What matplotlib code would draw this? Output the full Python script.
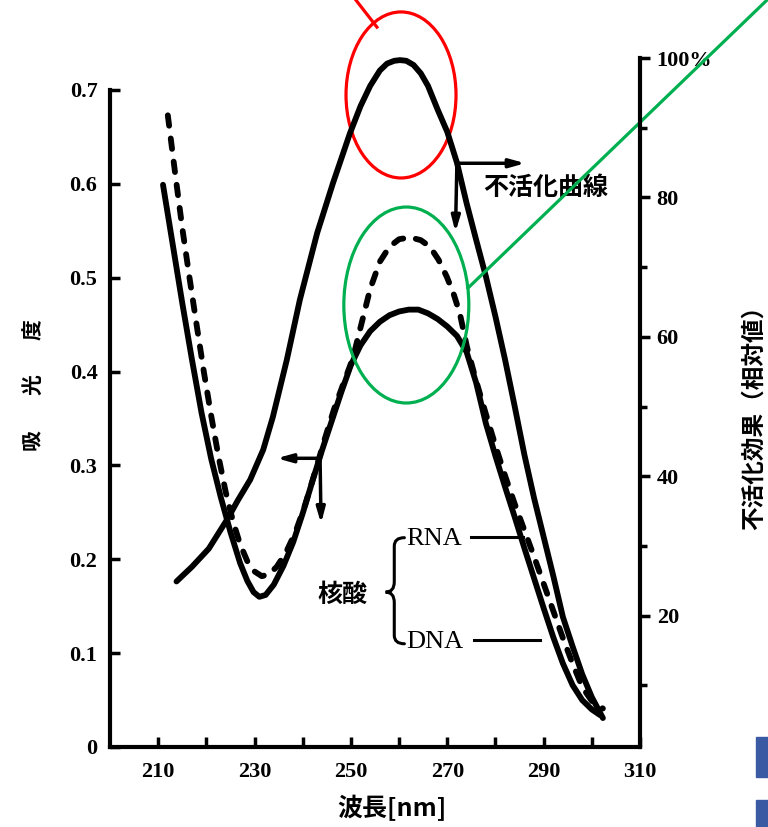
import numpy as np
import matplotlib.pyplot as plt
from matplotlib.patches import Ellipse, Rectangle, PathPatch
from matplotlib.path import Path

plt.rcParams['font.family'] = ['Noto Sans CJK JP', 'DejaVu Sans']
SERIF = 'Liberation Serif'

# DNA absorbance (left axis)
dna_nm = [211.0, 213.0, 215.0, 217.0, 219.0, 221.0, 223.0, 225.0, 227.0, 228.5, 229.8,
          231.0, 232.3, 234.0, 236.0, 238.0, 240.0, 242.0, 244.0, 246.0, 248.0, 250.0,
          252.0, 254.0, 256.0, 258.0, 260.0, 262.0, 264.0, 266.0, 268.0, 270.0, 272.0,
          274.0, 276.0, 278.0, 280.0, 282.0, 284.0, 286.0, 288.0, 290.0, 292.0, 294.0,
          296.0, 298.0, 300.0, 301.7]
dna_abs = [0.599, 0.536, 0.473, 0.413, 0.356, 0.307, 0.266, 0.229, 0.196, 0.177, 0.165,
           0.160, 0.162, 0.173, 0.193, 0.218, 0.249, 0.283, 0.316, 0.347, 0.378, 0.407,
           0.428, 0.443, 0.453, 0.460, 0.464, 0.466, 0.466, 0.462, 0.456, 0.448, 0.438,
           0.421, 0.388, 0.345, 0.310, 0.277, 0.245, 0.212, 0.180, 0.148, 0.117, 0.089,
           0.066, 0.050, 0.040, 0.034]

# RNA absorbance (left axis, dashed)
rna_nm = [212.0, 213.5, 215.0, 216.5, 218.0, 219.5, 221.0, 222.5, 224.0, 225.5, 227.0,
          228.5, 230.0, 231.5, 233.0, 234.6, 236.5, 238.5, 240.5, 242.5, 244.5, 246.5,
          248.5, 250.4, 252.0, 254.0, 256.0, 258.0, 260.0, 262.3, 264.5, 266.4, 268.2,
          269.9, 271.3, 272.6, 274.1, 276.0, 278.0, 280.0, 282.0, 284.0, 286.0, 288.0,
          290.0, 292.0, 294.0, 296.0, 298.0, 300.0, 302.3]
rna_abs = [0.673, 0.612, 0.553, 0.500, 0.449, 0.399, 0.353, 0.310, 0.272, 0.241, 0.216,
           0.198, 0.187, 0.182, 0.184, 0.192, 0.207, 0.229, 0.258, 0.292, 0.327, 0.360,
           0.388, 0.414, 0.447, 0.488, 0.517, 0.533, 0.541, 0.543, 0.540, 0.533, 0.519,
           0.501, 0.483, 0.462, 0.426, 0.390, 0.355, 0.321, 0.289, 0.259, 0.231, 0.203,
           0.174, 0.145, 0.116, 0.089, 0.064, 0.049, 0.041]

# inactivation effect (right axis, %)
inact_nm = [213.8, 217.0, 220.5, 222.5, 224.5, 226.5, 229.1, 231.8, 233.8, 236.7, 239.4,
            243.0, 246.3, 249.8, 252.0, 254.0, 256.0, 257.5, 259.0, 260.2, 261.5, 263.0,
            264.5, 266.0, 268.0, 270.0, 272.0, 274.0, 276.0, 278.0, 280.0, 282.0, 284.0,
            286.0, 288.0, 290.0, 292.0, 294.0, 296.0, 298.0, 300.0, 302.3]
inact_pct = [24.9, 27.0, 29.6, 31.8, 34.0, 36.5, 39.5, 43.8, 48.5, 56.7, 65.3,
             74.9, 82.1, 89.2, 93.1, 96.0, 98.2, 99.2, 99.6, 99.7, 99.6, 99.0,
             97.8, 96.0, 92.6, 89.4, 85.0, 79.2, 73.9, 68.7, 62.9, 56.7, 50.0,
             43.1, 36.9, 31.3, 25.7, 19.8, 15.6, 11.6, 8.3, 5.3]

x_ticks = list(range(210, 311, 10))
x_labels = ['210', '', '230', '', '250', '', '270', '', '290', '', '310']
abs_ticks = [0, 0.1, 0.2, 0.3, 0.4, 0.5, 0.6, 0.7]
abs_labels = ['0', '0.1', '0.2', '0.3', '0.4', '0.5', '0.6', '0.7']
pct_ticks = [20, 40, 60, 80, 100]
pct_labels = ['20', '40', '60', '80', '100%']
pct_minor = [10, 30, 50, 70, 90]

W, H = 768, 827
fig = plt.figure(figsize=(W / 100, H / 100), dpi=100)
ax = fig.add_axes([110 / W, 1 - 747 / H, 530 / W, 697 / H])
ax2 = ax.twinx()

LW = 4.2
ax.plot(dna_nm, dna_abs, color='black', lw=LW, solid_capstyle='round', solid_joinstyle='round')
ax.plot(rna_nm, rna_abs, color='black', lw=LW, dashes=(1.8, 2.2), dash_capstyle='round')
ax2.plot(inact_nm, inact_pct, color='black', lw=LW, solid_capstyle='round', solid_joinstyle='round')

# axes styling
ax.set_xlim(200, 310)
ax.set_ylim(0, 0.7426)
for s in ['top', 'right']:
    ax.spines[s].set_visible(False)
for s in ['top', 'left', 'bottom']:
    ax2.spines[s].set_visible(False)
ax.spines['left'].set_bounds(0, 0.7)
ax2.spines['right'].set_bounds(1.148, 100)
for sp in [ax.spines['left'], ax.spines['bottom'], ax2.spines['right']]:
    sp.set_linewidth(3)

ax.set_xticks(x_ticks)
ax.set_xticklabels(x_labels, fontfamily=SERIF, fontweight='bold', fontsize=16)
ax.tick_params(axis='x', direction='in', length=7, width=2.5, pad=11)
ax.set_yticks(abs_ticks)
ax.set_yticklabels(abs_labels, fontfamily=SERIF, fontweight='bold', fontsize=16)
ax.tick_params(axis='y', direction='in', length=7, width=2.5, pad=9)
ax2.set_yticks(pct_ticks)
ax2.set_yticklabels(pct_labels, fontfamily=SERIF, fontweight='bold', fontsize=16)
ax2.set_yticks(pct_minor, minor=True)
ax2.tick_params(axis='y', which='major', direction='out', length=7, width=2.5, pad=5)
ax2.tick_params(axis='y', which='minor', direction='out', length=5, width=2.5)

# axis titles
for ch, py in zip(['吸', '光', '度'], [440, 385, 330]):
    fig.text(33 / W, 1 - py / H, ch, rotation=90, ha='center', va='center',
             fontsize=15, fontweight='bold')
fig.text(754 / W, 1 - 412 / H, '不活化効果（相対値）', rotation=90, ha='center', va='center',
         fontsize=17, fontweight='bold')
fig.text(392 / W, 1 - 808 / H, '波長[nm]', ha='center', va='center', fontsize=18, fontweight='bold')

# arrows telling which axis to read
arrow = dict(arrowstyle='-|>,head_length=0.9,head_width=0.25', lw=2.5, color='black',
             shrinkA=0, shrinkB=0)
ax.annotate('', xy=(234.6, 0.3076), xytext=(243.6, 0.3076), arrowprops=arrow)
ax.annotate('', xy=(243.8, 0.238), xytext=(243.6, 0.3076), arrowprops=arrow)
ax2.annotate('', xy=(286.2, 84.9), xytext=(272.0, 84.9), arrowprops=arrow)
ax2.annotate('', xy=(271.7, 75.0), xytext=(272.0, 84.9), arrowprops=arrow)

ax.text(277.4, 0.5956, '不活化曲線', ha='left', va='center', fontsize=18, fontweight='bold')
ax.text(248.2, 0.162, '核酸', ha='center', va='center', fontsize=18, fontweight='bold')
ax.text(261.4, 0.2215, 'RNA', ha='left', va='center', fontsize=19, fontfamily=SERIF)
ax.text(261.4, 0.1115, 'DNA', ha='left', va='center', fontsize=19, fontfamily=SERIF)
ax.plot([274.9, 285.7], [0.224, 0.224], color='black', lw=2.2)
ax.plot([275.5, 289.2], [0.114, 0.114], color='black', lw=2.2)

# brace
bx, tip = 259.0, 257.2
verts = [(261.1, 0.223), (bx, 0.223), (bx, 0.214), (bx, 0.176), (bx, 0.165), (tip, 0.165),
         (bx, 0.165), (bx, 0.154), (bx, 0.119), (bx, 0.110), (261.1, 0.110)]
codes = [Path.MOVETO, Path.CURVE3, Path.CURVE3, Path.LINETO, Path.CURVE3, Path.CURVE3,
         Path.CURVE3, Path.CURVE3, Path.LINETO, Path.CURVE3, Path.CURVE3]
ax.add_patch(PathPatch(Path(verts, codes), fill=False, lw=2.2, color='black', capstyle='round'))

# red and green highlight marks
ax2.add_patch(Ellipse((260.4, 0.6947), 22.83, 0.1769, fill=False, ec='#ff0000', lw=2.3,
                      transform=ax.transData, clip_on=False))
ax2.add_patch(Ellipse((261.5, 0.4709), 25.94, 0.2088, fill=False, ec='#00b050', lw=2.3,
                      transform=ax.transData, clip_on=False))
ax2.plot([255.4, 250.4], [0.767, 0.800], color='#ff0000', lw=2.3, transform=ax.transData,
         clip_on=False)
ax2.plot([274.3, 337.0], [0.489, 0.799], color='#00b050', lw=2.3, transform=ax.transData,
         clip_on=False)
ax2.set_ylim(1.148, 101.15)

# blue blocks at the right edge
fig.patches.append(Rectangle((756 / W, 1 - 777 / H), 12 / W, 40 / H, transform=fig.transFigure,
                             color='#3a5ba4'))
fig.patches.append(Rectangle((756 / W, 0), 12 / W, 27 / H, transform=fig.transFigure,
                             color='#3a5ba4'))

fig.savefig('out.png', dpi=100)
